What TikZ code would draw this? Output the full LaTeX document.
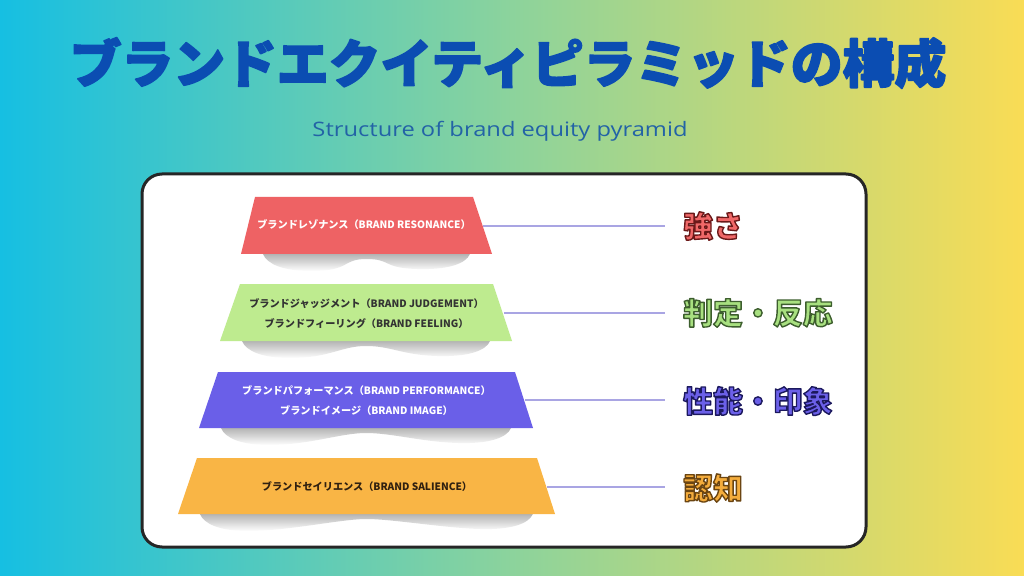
\documentclass[tikz,border=0pt]{standalone}
\usepackage{fontspec}
\usepackage{graphicx}
\usetikzlibrary{fadings}
\setmainfont{Noto Sans CJK JP}
\newfontfamily\jpfont{Noto Sans CJK JP}
\newfontfamily\subfont{Open Sans}
\definecolor{bgL}{HTML}{16BFE2}
\definecolor{bgM}{HTML}{8CD39C}
\definecolor{bgR}{HTML}{F9DC55}
\definecolor{titleblue}{HTML}{0B4DB2}
\definecolor{subblue}{HTML}{2363A6}
\definecolor{cRed}{HTML}{EE6264}
\definecolor{cGreen}{HTML}{BEEB8F}
\definecolor{cPurple}{HTML}{6A5FE8}
\definecolor{cOrange}{HTML}{F9B545}
\definecolor{lRed}{HTML}{F06868}
\definecolor{lGreen}{HTML}{A8E080}
\definecolor{lPurple}{HTML}{6B60E8}
\definecolor{lOrange}{HTML}{F4AC3C}
\definecolor{linec}{HTML}{A9A5E3}
\tikzfading[name=fadedown, top color=transparent!0, bottom color=transparent!100]
% #1 fill colour, #2 stroke rgb (0-1 triple), #3 stroke width, #4 text
\newcommand\strokedtext[4]{{\color{#1}\special{pdf:literal direct #2 RG #3 w 1 j 2 Tr}#4\special{pdf:literal direct 0 Tr}}}
\newcommand\shadowunder[3]{% xl xr yb
  \fill[black!70, opacity=0.42, path fading=fadedown]
    ({#1+22},#3) -- ({#2-22},#3)
    .. controls ({#2-26},{#3+10}) and ({#2-45},{#3+16}) .. ({#2-75},{#3+15})
    .. controls ({#2-110},{#3+14}) and ({(#1+#2)/2+25},{#3+5}) .. ({(#1+#2)/2},{#3+5})
    .. controls ({(#1+#2)/2-25},{#3+5}) and ({#1+110},{#3+17}) .. ({#1+70},{#3+17})
    .. controls ({#1+42},{#3+17}) and ({#1+26},{#3+10}) .. ({#1+22},#3) -- cycle;}
\tikzset{
  tier/.style={font=\jpfont\bfseries\fontsize{10.2}{20}\selectfont, align=center, inner sep=0pt},
  conn/.style={draw=linec, line width=1.3bp},
  lab/.style={anchor=west, inner sep=0pt, font=\jpfont\bfseries\fontsize{30}{32}\selectfont}
}
\begin{document}
\begin{tikzpicture}[x=1bp,y=-1bp]
\useasboundingbox (0,0) rectangle (1024,576);
\shade[left color=bgL, right color=bgR, middle color=bgM] (0,0) rectangle (1024,576);
% title
\node (title) [font=\jpfont\bfseries\fontsize{52}{56}\selectfont] at (508,63) {\strokedtext{titleblue}{0.043 0.302 0.698}{1.6}{ブランドエクイティピラミッドの構成}};
\node (sub) [font=\subfont\fontsize{20}{22}\selectfont, text=subblue] at (500,131) {\scalebox{1.19}[1]{Structure of brand equity pyramid}};
% card
\draw[line width=3bp, draw=black!85, fill=white, rounded corners=20bp] (142,174) rectangle (866,547);
% shadows
\shadowunder{241}{492}{254}
\shadowunder{220}{512}{341}
\shadowunder{199}{533}{428}
\shadowunder{178}{555}{514}
% tiers
\fill[cRed] (255,197) -- (473,197) -- (492,254) -- (241,254) -- cycle;
\fill[cGreen] (240,284) -- (493,284) -- (512,341) -- (220,341) -- cycle;
\fill[cPurple] (218,372) -- (515,372) -- (533,428) -- (199,428) -- cycle;
\fill[cOrange] (197,458) -- (537,458) -- (555,514) -- (178,514) -- cycle;
\node (t1) [tier, text=white] at (364,225) {ブランドレゾナンス（BRAND RESONANCE）};
\node (t2) [tier, text=black!80] at (366.5,314) {ブランドジャッジメント（BRAND JUDGEMENT）\\ブランドフィーリング（BRAND FEELING）};
\node (t3) [tier, text=white] at (366.5,401) {ブランドパフォーマンス（BRAND PERFORMANCE）\\ブランドイメージ（BRAND IMAGE）};
\node (t4) [tier, text=black!75!brown] at (367,487) {ブランドセイリエンス（BRAND SALIENCE）};
\coordinate (e1) at (483,226);
\coordinate (e2) at (504,313);
\coordinate (e3) at (525,400);
\coordinate (e4) at (547,487);
% labels
\node (l1) [lab] at (683,226) {\strokedtext{lRed}{0.42 0.1 0.1}{1.4}{強さ}};
\node (l2) [lab] at (683,313) {\strokedtext{lGreen}{0.24 0.37 0.18}{1.4}{判定・反応}};
\node (l3) [lab] at (683,401) {\strokedtext{lPurple}{0.11 0.1 0.37}{1.4}{性能・印象}};
\node (l4) [lab] at (683,488) {\strokedtext{lOrange}{0.42 0.27 0.07}{1.4}{認知}};
\draw[conn] (e1) -- ([xshift=-18bp]l1.west |- e1);
\draw[conn] (e2) -- ([xshift=-18bp]l2.west |- e2);
\draw[conn] (e3) -- ([xshift=-18bp]l3.west |- e3);
\draw[conn] (e4) -- ([xshift=-18bp]l4.west |- e4);
\end{tikzpicture}
\end{document}
